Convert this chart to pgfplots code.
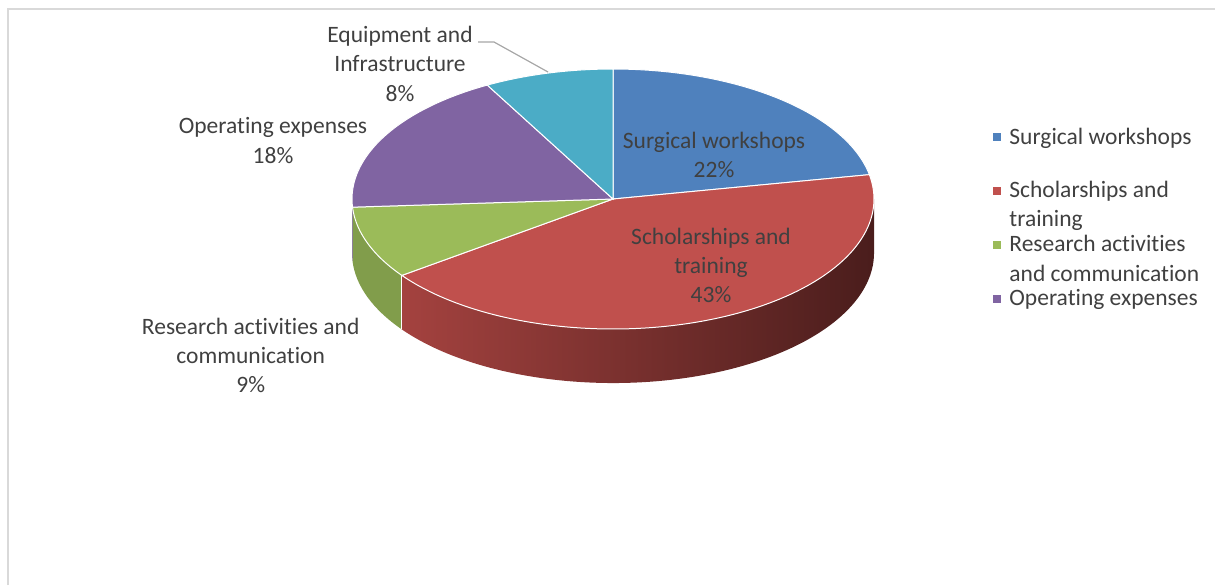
\documentclass[border=0pt]{standalone}
\usepackage{pgfplots}
\pgfplotsset{compat=1.18}
\usepackage{pgfplotstable}
\usepackage{fontspec}
\setmainfont{Carlito}[Ligatures=NoCommon]
\definecolor{cBlue}{HTML}{4F81BD}
\definecolor{cRed}{HTML}{C0504D}
\definecolor{cGreen}{HTML}{9BBB59}
\definecolor{cPurple}{HTML}{8064A2}
\definecolor{cAqua}{HTML}{4BACC6}
\definecolor{cGreenSide}{HTML}{819D4B}
\definecolor{cRedL}{HTML}{A4423F}
\definecolor{cRedR}{HTML}{4A1D1C}
\definecolor{cPurpleSide}{HTML}{664F84}
\definecolor{txt}{HTML}{404040}
\definecolor{frm}{HTML}{D9D9D9}
\definecolor{lead}{HTML}{A6A6A6}
\tikzset{lbl/.style={text=txt,font=\fontsize{11.75}{14.65}\selectfont,inner sep=0pt}}

\pgfplotstableread{
name value
Surgical 22
Scholarships 43
Research 9
Operating 18
Equipment 8
}\piedata

\begin{document}
\begin{tikzpicture}
\pgfplotstablegetelem{0}{value}\of\piedata \pgfmathsetmacro\aA{3.6*\pgfplotsretval}
\pgfplotstablegetelem{1}{value}\of\piedata \pgfmathsetmacro\aB{\aA+3.6*\pgfplotsretval}
\pgfplotstablegetelem{2}{value}\of\piedata \pgfmathsetmacro\aC{\aB+3.6*\pgfplotsretval}
\pgfplotstablegetelem{3}{value}\of\piedata \pgfmathsetmacro\aD{\aC+3.6*\pgfplotsretval}
\pgfplotstablegetelem{4}{value}\of\piedata \pgfmathsetmacro\aE{\aD+3.6*\pgfplotsretval}
\def\cx{613}\def\cy{199}\def\rx{261}\def\ry{130}
\begin{axis}[width=607.5pt,height=292.5pt,scale only axis,
  xmin=0,xmax=1215,ymin=0,ymax=585,y dir=reverse,hide axis,clip=false]
% frame
\draw[frm,line width=1pt] (axis cs:8,585) -- (axis cs:8,8.5) -- (axis cs:1215,8.5);
% side faces
\addplot[domain=90:\aB,samples=80,draw=none,left color=cRedL,right color=cRedR]
  ({\cx+\rx*sin(x)},{\cy-\ry*cos(x)}) -- ++(0pt,-27pt)
  arc[start angle={90-\aB},end angle=0,x radius=130.5pt,y radius=65pt] -- cycle;
\addplot[domain=\aB:\aC,samples=30,draw=none,fill=cGreenSide]
  ({\cx+\rx*sin(x)},{\cy-\ry*cos(x)}) -- ++(0pt,-27pt)
  arc[start angle={90-\aC},end angle={90-\aB},x radius=130.5pt,y radius=65pt] -- cycle;
\addplot[domain=\aC:270,samples=10,draw=none,fill=cPurpleSide]
  ({\cx+\rx*sin(x)},{\cy-\ry*cos(x)}) -- ++(0pt,-27pt)
  arc[start angle=-180,end angle={90-\aC},x radius=130.5pt,y radius=65pt] -- cycle;
\draw[white,line width=0.6pt] (axis cs:{\cx+\rx*sin(\aB)},{\cy-\ry*cos(\aB)}) -- ++(0pt,-27pt);
% top faces
\addplot[domain=0:\aA,samples=60,fill=cBlue,draw=white,line width=0.5pt]
  ({\cx+\rx*sin(x)},{\cy-\ry*cos(x)}) -- (axis cs:\cx,\cy) -- cycle;
\addplot[domain=\aA:\aB,samples=100,fill=cRed,draw=white,line width=0.5pt]
  ({\cx+\rx*sin(x)},{\cy-\ry*cos(x)}) -- (axis cs:\cx,\cy) -- cycle;
\addplot[domain=\aB:\aC,samples=30,fill=cGreen,draw=white,line width=0.5pt]
  ({\cx+\rx*sin(x)},{\cy-\ry*cos(x)}) -- (axis cs:\cx,\cy) -- cycle;
\addplot[domain=\aC:\aD,samples=60,fill=cPurple,draw=white,line width=0.5pt]
  ({\cx+\rx*sin(x)},{\cy-\ry*cos(x)}) -- (axis cs:\cx,\cy) -- cycle;
\addplot[domain=\aD:\aE,samples=30,fill=cAqua,draw=white,line width=0.5pt]
  ({\cx+\rx*sin(x)},{\cy-\ry*cos(x)}) -- (axis cs:\cx,\cy) -- cycle;
% leader line
\draw[lead,line width=0.6pt] (axis cs:478,42) -- (axis cs:494,42) -- (axis cs:548,72);
% data labels
\node[lbl,anchor=base] at (axis cs:400,42.5) {Equipment and};
\node[lbl,anchor=base] at (axis cs:400,71.5) {Infrastructure};
\node[lbl,anchor=base] at (axis cs:400,101) {8\%};
\node[lbl,anchor=base] at (axis cs:273,133.5) {Operating expenses};
\node[lbl,anchor=base] at (axis cs:273,163) {18\%};
\node[lbl,anchor=base] at (axis cs:714,148) {Surgical workshops};
\node[lbl,anchor=base] at (axis cs:714,177.5) {22\%};
\node[lbl,anchor=base] at (axis cs:711,244.3) {Scholarships and};
\node[lbl,anchor=base] at (axis cs:711,273.3) {training};
\node[lbl,anchor=base] at (axis cs:711,302.7) {43\%};
\node[lbl,anchor=base] at (axis cs:250.7,334.3) {Research activities and};
\node[lbl,anchor=base] at (axis cs:250.7,363.3) {communication};
\node[lbl,anchor=base] at (axis cs:250.7,392.7) {9\%};
% legend
\addplot[only marks,mark=square*,mark size=1.75pt,color=cBlue] coordinates {(997,137)};
\addplot[only marks,mark=square*,mark size=1.75pt,color=cRed] coordinates {(997,190.5)};
\addplot[only marks,mark=square*,mark size=1.75pt,color=cGreen] coordinates {(997,244.5)};
\addplot[only marks,mark=square*,mark size=1.75pt,color=cPurple] coordinates {(997,299)};
\node[lbl,anchor=base west] at (axis cs:1009,144) {Surgical workshops};
\node[lbl,anchor=base west] at (axis cs:1009,197) {Scholarships and};
\node[lbl,anchor=base west] at (axis cs:1009,226.5) {training};
\node[lbl,anchor=base west] at (axis cs:1009,251.5) {Research activities};
\node[lbl,anchor=base west] at (axis cs:1009,281) {and communication};
\node[lbl,anchor=base west] at (axis cs:1009,305.5) {Operating expenses};
\end{axis}
\pgfresetboundingbox
\path (current axis.south west) rectangle (current axis.north east);
\end{tikzpicture}
\end{document}
